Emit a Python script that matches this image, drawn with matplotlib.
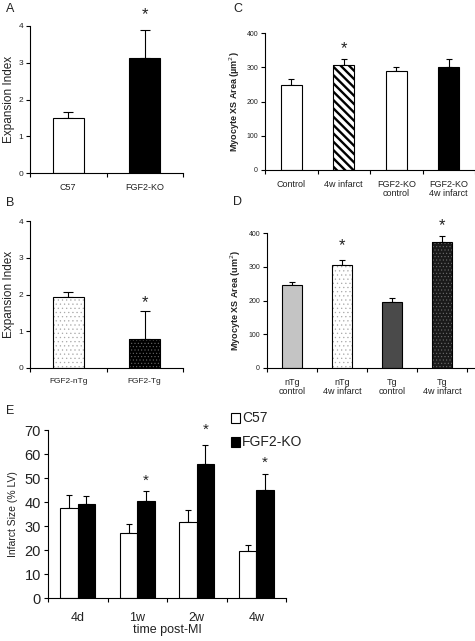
import matplotlib
matplotlib.use("Agg")
import matplotlib.pyplot as plt
import numpy as np
from matplotlib.patches import Rectangle

plt.rcParams['font.family'] = ['Liberation Sans', 'DejaVu Sans']
plt.rcParams['hatch.linewidth'] = 0.4

# ---------------- data ----------------
A_cats = ['C57', 'FGF2-KO']
A_vals = [1.5, 3.13]
A_err = [0.15, 0.75]

B_cats = ['FGF2-nTg', 'FGF2-Tg']
B_vals = [1.92, 0.78]
B_err = [0.15, 0.77]

C_cats = ['Control', '4w infarct', 'FGF2-KO\ncontrol', 'FGF2-KO\n4w infarct']
C_vals = [247, 308, 289, 300]
C_err = [18, 16, 13, 25]

D_cats = ['nTg\ncontrol', 'nTg\n4w infarct', 'Tg\ncontrol', 'Tg\n4w infarct']
D_vals = [247, 306, 197, 374]
D_err = [7, 14, 10, 16]

E_cats = ['4d', '1w', '2w', '4w']
E_c57 = [37.5, 27, 31.5, 19.7]
E_c57_err = [5.5, 4, 5.3, 2.3]
E_ko = [39, 40.5, 56, 44.8]
E_ko_err = [3.5, 4.2, 7.8, 6.7]

A_star = [None, 4.3]
B_star = [None, 1.77]
C_star = [None, 355, None, None]
D_star = [None, 364, None, 421]
E_star = [None, 48.7, 70.0, 56.5]

W, H = 475, 641
fig = plt.figure(figsize=(W / 100, H / 100), dpi=100)

def ax_px(l, t, r, b):
    return fig.add_axes([l / W, 1 - b / H, (r - l) / W, (b - t) / H])

TXT = '#222222'

def style(ax, n, ymax, yticks, tick_fs, cat_fs, cats, xmax=None):
    ax.spines['top'].set_visible(False)
    ax.spines['right'].set_visible(False)
    ax.spines['left'].set_bounds(0, ymax)
    ax.set_ylim(0, ymax)
    ax.set_xlim(-0.5, n - 0.5 if xmax is None else xmax)
    ax.set_yticks(yticks)
    ax.tick_params(axis='y', direction='out', length=3, width=0.8,
                   labelsize=tick_fs, labelcolor=TXT, pad=2)
    ax.set_xticks(np.arange(n))
    ax.set_xticklabels(cats, fontsize=cat_fs, color=TXT, linespacing=1.1)
    ax.tick_params(axis='x', which='major', length=0, pad=7)
    ax.set_xticks(np.arange(-0.5, n, 1.0), minor=True)
    ax.tick_params(axis='x', which='minor', direction='out', length=3, width=0.8)
    for s in ax.spines.values():
        s.set_linewidth(0.8)

def bars(ax, x, vals, errs, faces, hatches, hcolors, width, capsize):
    for xi, v, e, fc, h, hc in zip(x, vals, errs, faces, hatches, hcolors):
        ax.errorbar([xi], [v], yerr=[[0], [e]], fmt='none', ecolor='black',
                    elinewidth=0.8, capsize=capsize, capthick=0.8, zorder=1)
        if h:
            lw = 1.7 if h.startswith('\\') else 0.4
            with plt.rc_context({'hatch.linewidth': lw}):
                b = ax.bar([xi], [v], width=width, color=fc, edgecolor=hc,
                           hatch=h, linewidth=0, zorder=2)
                for p in b.patches:
                    if hasattr(p, 'set_hatch_linewidth'):
                        p.set_hatch_linewidth(lw)
            ax.bar([xi], [v], width=width, fill=False, edgecolor='black',
                   linewidth=0.8, zorder=3)
        else:
            ax.bar([xi], [v], width=width, color=fc, edgecolor='black',
                   linewidth=0.8, zorder=2)

def stars(ax, x, ys, fs):
    for xi, y in zip(x, ys):
        if y is not None:
            ax.text(xi, y, '*', ha='center', va='center', fontsize=fs,
                    color=TXT, clip_on=False)

# ---------------- Panel A ----------------
axA = ax_px(30, 26, 183, 173)
style(axA, 2, 4, [0, 1, 2, 3, 4], 6, 6.5, A_cats)
bars(axA, np.arange(2), A_vals, A_err, ['white', 'black'], [None, None],
     [None, None], 0.4, 3.5)
stars(axA, np.arange(2), A_star, 12)
axA.set_ylabel('Expansion Index', fontsize=8.5, color=TXT)
axA.yaxis.set_label_coords(-0.1, 0.5)
fig.text(6 / W, 1 - 9 / H, 'A', fontsize=9, color=TXT, va='center')

# ---------------- Panel B ----------------
axB = ax_px(30, 221, 183, 368)
style(axB, 2, 4, [0, 1, 2, 3, 4], 6, 6, B_cats)
bars(axB, np.arange(2), B_vals, B_err, ['white', 'black'], ['....', '.....'],
     ['#a8a8a8', '#6a6a6a'], 0.4, 3.5)
stars(axB, np.arange(2), B_star, 12)
axB.set_ylabel('Expansion Index', fontsize=8.5, color=TXT)
axB.yaxis.set_label_coords(-0.1, 0.5)
fig.text(6 / W, 1 - 203 / H, 'B', fontsize=9, color=TXT, va='center')

# ---------------- Panel C ----------------
axC = ax_px(265, 33, 475, 170)
style(axC, 4, 400, [0, 100, 200, 300, 400], 5, 6.5, C_cats)
bars(axC, np.arange(4), C_vals, C_err, ['white', 'white', 'white', 'black'],
     [None, '\\\\\\\\', None, None], [None, 'black', None, None], 0.4, 2.5)
stars(axC, np.arange(4), C_star, 12)
axC.set_ylabel('Myocyte XS Area (µm$^2$)', fontsize=6.5, fontweight='bold',
               color=TXT)
axC.yaxis.set_label_coords(-0.108, 0.5)
fig.text(233 / W, 1 - 9 / H, 'C', fontsize=9, color=TXT, va='center')

# ---------------- Panel D ----------------
axD = ax_px(267, 233, 475, 368)
style(axD, 4, 400, [0, 100, 200, 300, 400], 5, 6.5, D_cats, xmax=3.65)
bars(axD, np.arange(4), D_vals, D_err,
     ['#c4c4c4', 'white', '#4a4a4a', '#1a1a1a'],
     [None, '....', None, '.....'], [None, '#a8a8a8', None, '#707070'], 0.4, 2.5)
stars(axD, np.arange(4), D_star, 12)
axD.set_ylabel('Myocyte XS Area (um$^2$)', fontsize=6.5, fontweight='bold',
               color=TXT)
axD.yaxis.set_label_coords(-0.115, 0.5)
fig.text(233 / W, 1 - 202 / H, 'D', fontsize=9, color=TXT, va='center')

# ---------------- Panel E ----------------
axE = ax_px(48, 430, 286, 598)
style(axE, 4, 70, [0, 10, 20, 30, 40, 50, 60, 70], 10.5, 9, E_cats)
axE.tick_params(axis='x', which='major', pad=10)
bw = 0.29
xE = np.arange(4)
bars(axE, xE - bw / 2, E_c57, E_c57_err, ['white'] * 4, [None] * 4,
     [None] * 4, bw, 2.5)
bars(axE, xE + bw / 2, E_ko, E_ko_err, ['black'] * 4, [None] * 4,
     [None] * 4, bw, 2.5)
stars(axE, xE + bw / 2, E_star, 11)
axE.set_ylabel('Infarct Size (% LV)', fontsize=7.5, color=TXT)
axE.yaxis.set_label_coords(-0.125, 0.5)
axE.set_xlabel('time post-MI', fontsize=9, color=TXT, labelpad=0)
fig.text(6 / W, 1 - 411 / H, 'E', fontsize=9, color=TXT, va='center')

# legend
for i, (lab, fc) in enumerate([('C57', 'white'), ('FGF2-KO', 'black')]):
    yc = 418 + i * 24
    fig.patches.append(Rectangle((231 / W, 1 - (yc + 5) / H), 9 / W, 10 / H,
                                 transform=fig.transFigure, facecolor=fc,
                                 edgecolor='black', linewidth=0.8))
    fig.text(242 / W, 1 - yc / H, lab, fontsize=10, color=TXT, va='center')

fig.savefig('out.png', dpi=100)
